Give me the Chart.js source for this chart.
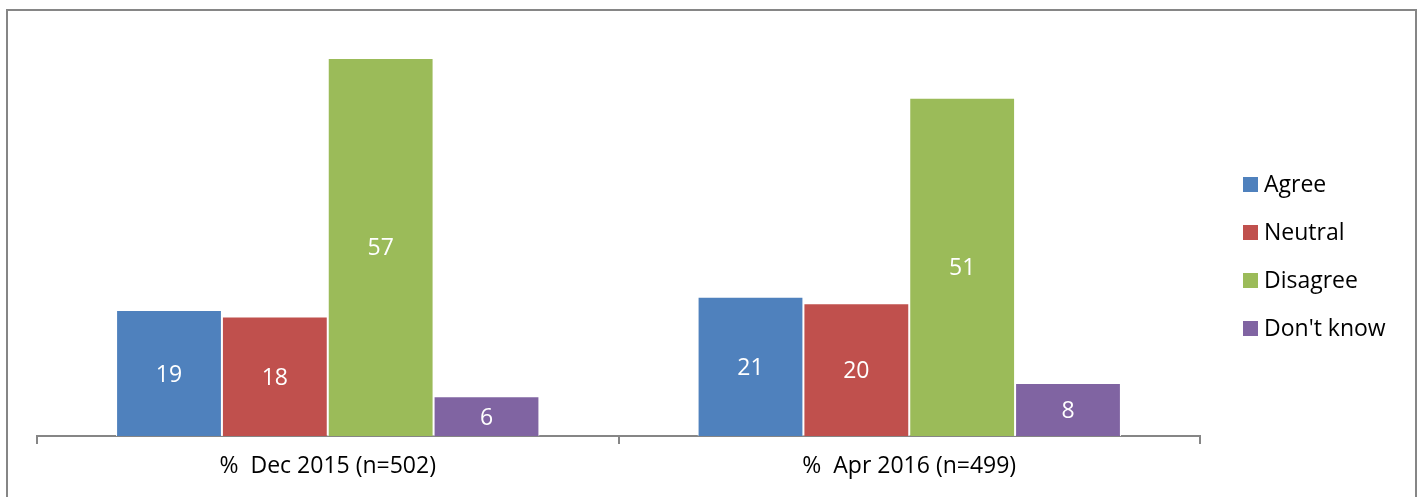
<!DOCTYPE html>
<html>
<head>
<meta charset="utf-8">
<script src="https://cdn.jsdelivr.net/npm/chart.js@4/dist/chart.umd.min.js"></script>
<style>
html,body{margin:0;padding:0;background:#fff;}
#wrap{width:1423px;height:497px;position:relative;}
</style>
</head>
<body>
<div id="wrap"><canvas id="c" width="1423" height="497"></canvas></div>
<script>
const categories = ['%  Dec 2015 (n=502)', '%  Apr 2016 (n=499)'];
const seriesNames = ['Agree', 'Neutral', 'Disagree', "Don't know"];
const agree = [19, 21];
const neutral = [18, 20];
const disagree = [57, 51];
const dontKnow = [6, 8];
const colors = ['#4F81BD', '#C0504D', '#9BBB59', '#8064A2'];
const FONT = "'Open Sans', 'Noto Sans', sans-serif";

const seriesValues = [agree, neutral, disagree, dontKnow];

const frame = {
  id: 'frame',
  beforeDraw(chart) {
    const ctx = chart.ctx;
    ctx.save();
    ctx.fillStyle = '#fff';
    ctx.fillRect(0, 0, chart.width, chart.height);
    ctx.restore();
  },
  afterDraw(chart) {
    const ctx = chart.ctx;
    ctx.save();
    ctx.strokeStyle = '#868686';
    ctx.lineWidth = 2;
    ctx.strokeRect(7, 10, 1409, 600);
    // legend
    ctx.font = '23px ' + FONT;
    ctx.textBaseline = 'middle';
    ctx.textAlign = 'left';
    seriesNames.forEach((n, i) => {
      const y = 184 + i * 48;
      ctx.fillStyle = colors[i];
      ctx.fillRect(1243, y - 7, 15, 15);
      ctx.fillStyle = '#000';
      ctx.fillText(n, 1264, y + 1);
    });
    ctx.restore();
  },
  afterDatasetsDraw(chart) {
    const ctx = chart.ctx;
    ctx.save();
    ctx.font = '23px ' + FONT;
    ctx.fillStyle = '#fff';
    ctx.textAlign = 'center';
    ctx.textBaseline = 'middle';
    chart.data.datasets.forEach((ds, di) => {
      chart.getDatasetMeta(di).data.forEach((bar, i) => {
        const y = (bar.y + bar.base) / 2;
        ctx.fillText(String(ds.data[i]), bar.x, y + 2);
      });
    });
    ctx.restore();
  }
};

new Chart(document.getElementById('c'), {
  type: 'bar',
  data: {
    labels: categories,
    datasets: seriesNames.map((n, i) => ({
      label: n,
      data: seriesValues[i],
      backgroundColor: colors[i],
      borderColor: '#ffffff',
      borderWidth: 1,
      categoryPercentage: 0.728,
      barPercentage: 1.0
    }))
  },
  options: {
    responsive: false,
    animation: false,
    devicePixelRatio: 1,
    layout: { padding: { left: 37, right: 223, top: 38, bottom: 0 } },
    plugins: { legend: { display: false }, tooltip: { enabled: false } },
    scales: {
      x: {
        afterFit(scale) { scale.height = 61; },
        grid: { offset: true, drawOnChartArea: false, drawTicks: true, tickLength: 8, color: '#868686', lineWidth: 2 },
        border: { display: true, color: '#868686', width: 2 },
        ticks: { color: '#000', font: { family: FONT, size: 23 }, padding: 9 }
      },
      y: {
        display: false,
        min: 0,
        max: 60
      }
    }
  },
  plugins: [frame]
});
</script>
</body>
</html>
